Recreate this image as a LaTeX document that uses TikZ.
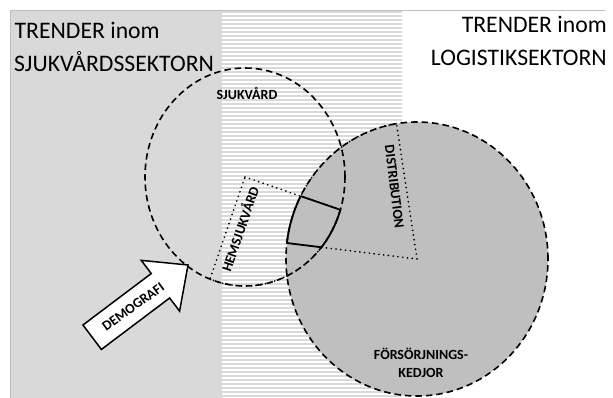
\documentclass[tikz,border=0pt]{standalone}
\usepackage{fontspec}
\setmainfont{Carlito}
\definecolor{panelgray}{HTML}{D9D9D9}
\definecolor{stripegray}{HTML}{D9D9D9}
\definecolor{framegray}{HTML}{BDBDBD}
\definecolor{chaingray}{HTML}{BFBFBF}
\tikzset{
  title/.style={inner sep=0pt, font=\fontsize{23.7}{28}\selectfont},
  label/.style={inner sep=0pt, text height=0.63em, text depth=0pt,
                font=\fontsize{14}{16}\selectfont\bfseries},
  dashline/.style={line width=1.6pt, dash pattern=on 6.5pt off 4pt},
  dotline/.style={line width=1.9pt, line cap=round, dash pattern=on 0pt off 4.8pt},
  quadline/.style={line width=1.8pt, line join=round},
  arrowbox/.style={draw=black, fill=white, line width=1.5pt, line join=miter},
}
\begin{document}
\begin{tikzpicture}[x=1pt, y=-1pt]
\useasboundingbox (0,0) rectangle (613,398);
\fill[white] (0,0) rectangle (613,398);

% health-care side panel
\fill[panelgray] (10,10) rectangle (222,398);

% striped transition band
\begin{scope}
  \clip (222,10) rectangle (402,398);
  \fill[white] (222,10) rectangle (402,398);
  \foreach \k in {0,...,97}
    \fill[stripegray] (222,{11+4*\k}) rectangle (402,{13+4*\k});
\end{scope}

% frame
\draw[framegray, line width=1.5pt] (10.5,398) -- (10.5,10.5) -- (605,10.5);

% supply-chain circle
\draw[dashline, fill=chaingray] (417,259) ellipse [x radius=131pt, y radius=137pt];

% health-care circle
\draw[dashline] (245,177) ellipse [x radius=100pt, y radius=109pt];

% home-care sector of the health-care circle
\draw[dotline] (245,177)
  -- plot[domain=17.5:110.5, samples=50] ({245+100*cos(\x)},{177+109*sin(\x)}) -- cycle;

% distribution sector of the supply-chain circle
\draw[dotline] (417,259)
  -- plot[domain=186.7:261, samples=50] ({417+131*cos(\x)},{259+137*sin(\x)}) -- cycle;

% overlap of the two sectors
\begin{scope}
  \clip (245,177)
    -- plot[domain=17.5:110.5, samples=50] ({245+100*cos(\x)},{177+109*sin(\x)}) -- cycle;
  \draw[quadline] (417,259)
    -- plot[domain=186.7:261, samples=50] ({417+131*cos(\x)},{259+137*sin(\x)}) -- cycle;
\end{scope}
\begin{scope}
  \clip (417,259)
    -- plot[domain=186.7:261, samples=50] ({417+131*cos(\x)},{259+137*sin(\x)}) -- cycle;
  \draw[quadline] (245,177)
    -- plot[domain=17.5:110.5, samples=50] ({245+100*cos(\x)},{177+109*sin(\x)}) -- cycle;
\end{scope}

% demography block arrow
\begin{scope}[shift={(188,265)}, rotate=37]
  \draw[arrowbox] (0,0) -- (-34.5,-31.8) -- (-34.5,-15.3) -- (-120,-15.3)
    -- (-120,15.3) -- (-34.5,15.3) -- (-34.5,31.8) -- cycle;
\end{scope}
\node[label, rotate=36] (demografi) at (134,308) {DEMOGRAFI};

% headings
\node[title, anchor=base west] (trendL) at (14.5,38.5) {TRENDER inom};
\node[title, anchor=base west] (sektorL) at (14,72) {SJUKVÅRDSSEKTORN};
\node[title, anchor=base east] (trendR) at (607,33) {TRENDER inom};
\node[title, anchor=base east] (sektorR) at (607,65.5) {LOGISTIKSEKTORN};

% circle and sector labels
\node[label, anchor=base] (sjukvard) at (247,100) {SJUKVÅRD};
\node[label, rotate=71] (hemsjukvard) at (242,230) {HEMSJUKVÅRD};
\node[label, rotate=-83] (distribution) at (393,187) {DISTRIBUTION};
\node[label, anchor=base] (fors) at (421,359.5) {FÖRSÖRJNINGS-};
\node[label, anchor=base] (kedjor) at (421,377) {KEDJOR};
\end{tikzpicture}
\end{document}
